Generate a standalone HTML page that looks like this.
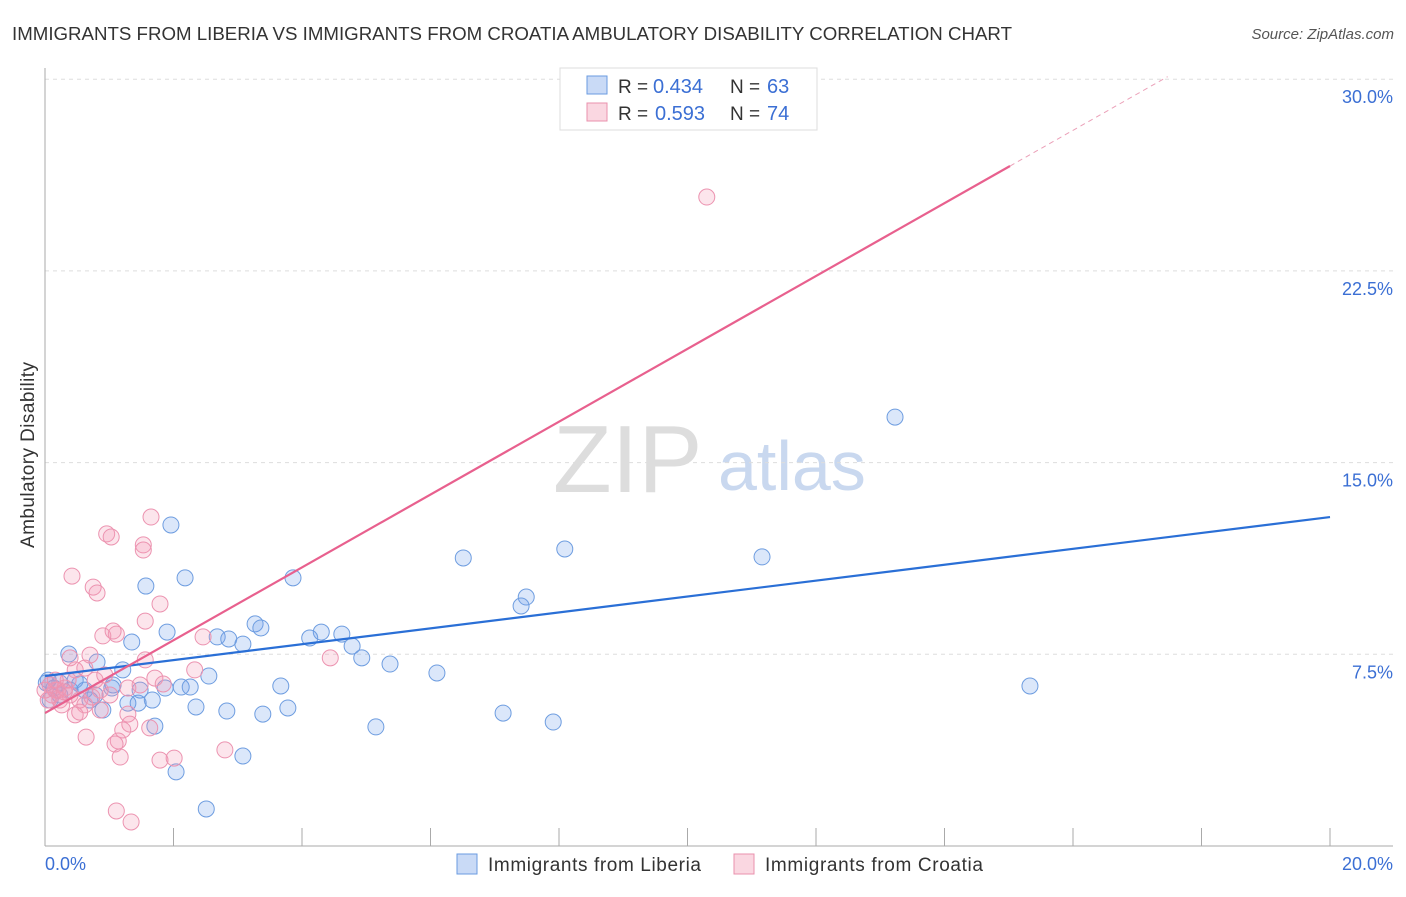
<!DOCTYPE html>
<html><head><meta charset="utf-8"><style>
body{margin:0;background:#fff;font-family:"Liberation Sans",sans-serif;}
svg text{font-family:"Liberation Sans",sans-serif;}
</style></head><body>
<svg id="chart" width="1406" height="892" xmlns="http://www.w3.org/2000/svg">
<text x="12" y="40" font-size="18" fill="#333" textLength="1000" lengthAdjust="spacingAndGlyphs">IMMIGRANTS FROM LIBERIA VS IMMIGRANTS FROM CROATIA AMBULATORY DISABILITY CORRELATION CHART</text>
<text x="1394" y="39" font-size="15" fill="#555" font-style="italic" text-anchor="end">Source: ZipAtlas.com</text>
<g>
<text x="553" y="492" font-size="96" fill="#ddd" font-family="Liberation Serif,serif">ZIP</text>
<text x="718" y="490" font-size="70" fill="#c9d8ef">atlas</text>
</g>
<g id="grid"></g>
<g id="axes"></g>
<g id="marks"></g>
<text transform="translate(34,455) rotate(-90)" font-size="19" fill="#333" text-anchor="middle" textLength="186">Ambulatory Disability</text>
<g>
<rect x="560" y="68" width="257" height="62" fill="#fff" stroke="#ddd"/>
<rect x="587" y="76" width="20" height="18" fill="rgba(100,150,230,0.35)" stroke="#6a9be0"/>
<text x="618" y="93" font-size="19" fill="#333">R =</text>
<text x="653" y="93" font-size="20" fill="#3b6fd4">0.434</text>
<text x="730" y="93" font-size="19" fill="#333">N =</text>
<text x="767" y="93" font-size="20" fill="#3b6fd4">63</text>
<rect x="587" y="103" width="20" height="18" fill="rgba(240,140,170,0.35)" stroke="#ea90ad"/>
<text x="618" y="120" font-size="19" fill="#333">R =</text>
<text x="655" y="120" font-size="20" fill="#3b6fd4">0.593</text>
<text x="730" y="120" font-size="19" fill="#333">N =</text>
<text x="767" y="120" font-size="20" fill="#3b6fd4">74</text>
</g>
<g>
<rect x="457" y="854" width="20" height="20" fill="rgba(100,150,230,0.35)" stroke="#6a9be0"/>
<text x="488" y="871" font-size="19" fill="#333" textLength="213">Immigrants from Liberia</text>
<rect x="734" y="854" width="20" height="20" fill="rgba(240,140,170,0.35)" stroke="#ea90ad"/>
<text x="765" y="871" font-size="19" fill="#333" textLength="218">Immigrants from Croatia</text>
</g>
</svg>
<script>
const xTicksLabels=["0.0%","20.0%"];
const yTicks=[7.5,15,22.5,30];
const yTickLabels=["7.5%","15.0%","22.5%","30.0%"];
const liberiaX=[1.96,2.18,1.57,3.86,6.51,8.09,11.16,13.23,7.49,7.41,1.90,1.35,3.27,3.36,2.68,2.86,3.08,4.30,4.62,4.12,4.78,4.93,5.37,6.10,0.37,0.81,1.21,0.14,0.23,0.54,1.06,1.48,1.87,2.12,2.26,2.55,3.67,15.33,1.29,1.45,1.67,2.35,2.83,3.39,3.78,7.13,7.91,1.71,5.15,3.08,2.04,2.51,0.90,0.05,0.39,0.70,0.23,1.04,0.08,0.47,0.62,0.78,0.02];
const liberiaY=[12.56,10.49,10.17,10.49,11.27,11.62,11.31,16.78,9.74,9.39,8.37,7.98,8.69,8.53,8.18,8.10,7.90,8.37,8.29,8.14,7.82,7.36,7.12,6.77,7.51,7.20,6.89,6.18,6.38,6.34,6.30,6.10,6.18,6.22,6.22,6.65,6.26,6.26,5.59,5.59,5.71,5.44,5.28,5.16,5.40,5.20,4.85,4.69,4.66,3.52,2.90,1.45,5.32,6.49,6.10,5.71,5.91,6.18,5.71,6.49,6.10,5.91,6.38];
const croatiaX=[10.30,1.65,0.96,1.03,1.53,1.53,0.42,0.75,0.81,1.79,1.56,1.11,0.90,1.06,2.46,0.39,0.70,1.56,2.33,4.44,1.71,1.84,1.29,1.48,0.16,0.23,0.39,0.54,0.62,0.73,0.47,0.54,0.86,1.29,1.32,1.21,1.63,0.64,1.14,1.09,1.17,1.79,2.01,2.80,1.11,1.34,0.08,0.11,0.20,0.31,0.05,0.26,0.78,0.93,0.47,0.62,0.36,1.01,0.00,0.16,0.30,0.86];
const croatiaY=[25.39,12.87,12.21,12.09,11.78,11.58,10.56,10.13,9.90,9.47,8.80,8.29,8.22,8.41,8.18,7.36,7.47,7.28,6.89,7.36,6.57,6.34,6.18,6.30,6.10,5.71,5.91,5.71,5.52,5.83,5.13,5.24,5.32,5.16,4.77,4.54,4.62,4.26,4.11,3.99,3.48,3.36,3.44,3.76,1.37,0.94,6.30,5.91,6.10,6.18,5.71,5.52,6.49,6.69,6.89,6.96,6.49,5.91,6.10,6.49,6.03,6.10];
const liberiaTrend=[6.65,12.87];
const croatiaTrend=[5.2,1.425,15.02];
const X0=45,X1=1330,Y0=846,YPER=191.7/7.5;
const sx=v=>X0+(X1-X0)*v/20;
const sy=v=>Y0-v*YPER;
const NS="http://www.w3.org/2000/svg";
function mk(parent,tag,attrs){const e=document.createElementNS(NS,tag);for(const k in attrs)e.setAttribute(k,attrs[k]);document.getElementById(parent).appendChild(e);return e;}
yTicks.forEach((t,i)=>{
 const g=mk('grid','line',{x1:X0,x2:1393,y1:sy(t),y2:sy(t),stroke:'#ddd','stroke-dasharray':'4,4'});
 
 
 const l=mk('grid','text',{x:1393,y:sy(t)+24,'font-size':18,fill:'#3b6fd4','text-anchor':'end'});
 l.textContent=yTickLabels[i];
 
 
});
const ax=mk('axes','line',{x1:X0,x2:X0,y1:68,y2:Y0,stroke:'#aaa'});


const bx=mk('axes','line',{x1:X0,x2:1393,y1:Y0,y2:Y0,stroke:'#aaa'});


for(let i=1;i<=10;i++){
 const t=mk('axes','line',{x1:sx(i*2),x2:sx(i*2),y1:828,y2:Y0,stroke:'#aaa'});
 
 
}
const xl0=mk('axes','text',{x:X0,y:870,'font-size':18,fill:'#3b6fd4'});
xl0.textContent=xTicksLabels[0];


const xl1=mk('axes','text',{x:1393,y:870,'font-size':18,fill:'#3b6fd4','text-anchor':'end'});
xl1.textContent=xTicksLabels[1];


liberiaX.forEach((x,i)=>{
 const c=mk('marks','circle',{cx:sx(x),cy:sy(liberiaY[i]),r:8,fill:'rgba(110,160,235,0.25)',stroke:'#6e9de0','stroke-width':1});
 
 
});
croatiaX.forEach((x,i)=>{
 const c=mk('marks','circle',{cx:sx(x),cy:sy(croatiaY[i]),r:8,fill:'rgba(245,150,180,0.25)',stroke:'#ec93b0','stroke-width':1});
 
 
});
const bl=mk('marks','line',{x1:sx(0),y1:sy(liberiaTrend[0]),x2:sx(20),y2:sy(liberiaTrend[1]),stroke:'#2a6fd6','stroke-width':2.2});


const [a,b,xe]=croatiaTrend;
const pl=mk('marks','line',{x1:sx(0),y1:sy(a),x2:sx(xe),y2:sy(a+b*xe),stroke:'#e8608e','stroke-width':2.2});


const xd=(30.1-a)/b;
const pd=mk('marks','line',{x1:sx(xe),y1:sy(a+b*xe),x2:sx(xd),y2:sy(a+b*xd),stroke:'#eba0b8','stroke-width':1,'stroke-dasharray':'5,4'});


</script>
</body></html>
